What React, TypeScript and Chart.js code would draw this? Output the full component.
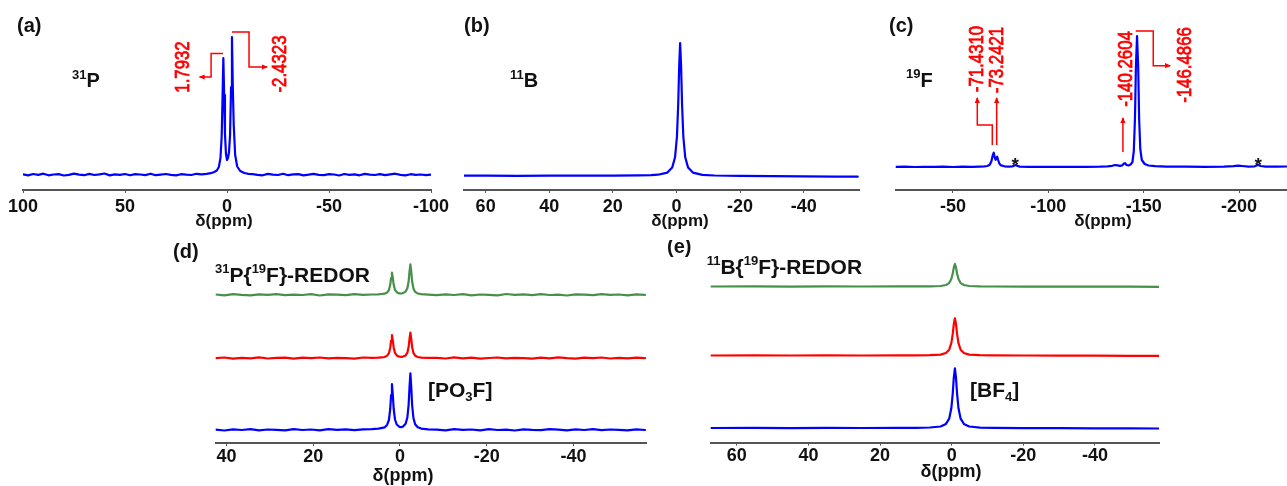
import React, { useEffect, useRef } from "react";
import { Chart, registerables } from "chart.js";

Chart.register(...registerables);

type Pt = [number, number];

// ---------------- DATA (δ in ppm, intensity in a.u.) ----------------
// (a) 31P
const P31_SPECTRUM: Pt[] = [
  [100, 0.6], [97.5, -0.4], [95, 1.0], [92.5, 0.2], [90, 1.3], [87.5, -0.3], [85, 0.5], [82.5, 0.9], [80, -0.5],
  [77.5, 0.1], [75, 1.4], [72.5, 0.4], [70, -0.2], [67.5, 1.1], [65, 0.0], [62.5, 0.6], [60, 1.5], [57.5, -0.4],
  [55, 0.7], [52.5, 0.1], [50, 1.0], [47.5, -0.3], [45, 0.9], [42.5, 0.5], [40, -0.1], [37.5, 1.3], [35, -0.2],
  [32.5, 0.4], [30, 1.0], [27.5, 0.1], [25, -0.4], [22.5, 0.8], [20, 0.3], [17.5, 0.0], [15, 1.2], [12.5, 0.6],
  [10, 1.2], [8, 1.8], [6.5, 2.8], [5, 4.5], [4, 8], [3.2, 17], [2.6, 39], [2.2, 76], [1.79, 117], [1.4, 80],
  [1.0, 41], [0.5, 21], [0.0, 15], [-0.5, 17], [-1.0, 23], [-1.5, 40], [-2.0, 88], [-2.43, 138], [-2.85, 88],
  [-3.3, 50], [-4.0, 20], [-5.0, 8.5], [-6.5, 4], [-8.5, 2], [-10.5, 1.2],
  [-12.5, 0.9], [-15, 0.2], [-17.5, -0.3], [-20, 1.1], [-22.5, 0.4], [-25, 0.0], [-27.5, 1.3], [-30, -0.2],
  [-32.5, 0.6], [-35, 0.9], [-37.5, -0.4], [-40, 0.3], [-42.5, 1.2], [-45, 0.1], [-47.5, -0.1], [-50, 0.8],
  [-52.5, 0.5], [-55, -0.5], [-57.5, 1.0], [-60, 0.2], [-62.5, 0.7], [-65, -0.3], [-67.5, 1.1], [-70, 0.4],
  [-72.5, 0.0], [-75, 0.9], [-77.5, -0.2], [-80, 0.6], [-82.5, 1.3], [-85, 0.1], [-87.5, -0.4], [-90, 0.8],
  [-92.5, 0.2], [-95, 0.5], [-97.5, -0.1], [-100, 0.3],
];

// (b) 11B
const B11_SPECTRUM: Pt[] = [
  [67, 0.3], [60, 0.4], [50, 0.2], [40, 0.4], [30, 0.3], [20, 0.4], [12, 0.6], [8, 0.9], [5.84, 1.3],
  [2.84, 3.4], [1.34, 8.4], [0.44, 18.7], [-0.16, 39.5], [-0.56, 72], [-0.86, 110], [-1.16, 133], [-1.46, 110],
  [-1.76, 72], [-2.16, 39.5], [-2.76, 18.7], [-3.66, 8.4], [-5.16, 3.4], [-8.16, 1.1], [-12, 0.5], [-20, 0.1],
  [-30, -0.2], [-40, -0.4], [-50, -0.6], [-57, -0.7],
];

// (c) 19F
const F19_SPECTRUM: Pt[] = [
  [-20, 0.1], [-25, 0.3], [-30, 0.0], [-35, 0.2], [-40, 0.1], [-45, 0.3], [-50, 0.0], [-55, 0.3], [-60, 0.2],
  [-64, 0.4], [-66.5, 0.6], [-68, 1.0], [-69.3, 2.2], [-70.2, 6], [-70.9, 12], [-71.4, 14.3], [-71.9, 9.5],
  [-72.4, 7.2], [-72.8, 9], [-73.2, 10.3], [-73.7, 7], [-74.3, 3.5], [-75.2, 1.6], [-77, 0.7], [-79, 0.4],
  [-81, 0.5], [-82.2, 1.4], [-82.8, 1.9], [-83.6, 1.2], [-85, 0.4], [-90, 0.2], [-100, 0.1], [-110, 0.2],
  [-120, 0.1], [-127, 0.3], [-131, 0.6], [-133.5, 1.2], [-135, 2.0], [-136.3, 1.6], [-137.5, 1.2], [-138.7, 1.6],
  [-139.6, 3.4], [-140.26, 3.8], [-141, 2.0], [-142, 1.6], [-143.2, 2.6], [-144.1, 5], [-144.8, 16], [-145.4, 48],
  [-145.9, 100], [-146.5, 131], [-147.1, 100], [-147.6, 48], [-148.2, 18], [-149, 7], [-150.5, 3], [-152.5, 1.5],
  [-156, 0.8], [-162, 0.4], [-172, 0.3], [-182, 0.2], [-192, 0.4], [-197, 0.8], [-199.5, 1.4], [-201.5, 1.0],
  [-205, 0.4], [-208.2, 0.7], [-209.4, 1.8], [-210.2, 2.0], [-211.3, 1.0], [-214, 0.4], [-220, 0.3], [-225.1, 0.5],
];

// (d) 31P{19F}-REDOR
const D_REFERENCE: Pt[] = [
  [42.5, 0.4], [40.5, -0.5], [38.5, 0.7], [36.5, 0.0], [34.5, 0.9], [32.5, -0.3], [30.5, 0.5], [28.5, 0.2],
  [26.5, -0.4], [24.5, 0.8], [22.5, 0.0], [20.5, 0.5], [18.5, -0.3], [16.5, 0.9], [14.5, 0.1], [12.5, 0.6],
  [10.5, -0.2], [8.5, 0.7], [6.5, 0.9], [5, 1.3], [4.35, 1.9], [3.55, 2.6], [2.95, 5.3], [2.55, 10], [2.25, 21],
  [2.05, 35], [1.85, 46], [1.65, 35], [1.45, 21], [1.15, 10.5], [0.75, 5.5], [0.15, 3.2], [-0.3, 2.8], [-0.7, 3.5],
  [-1.3, 6.3], [-1.7, 12.5], [-2.0, 25.5], [-2.2, 43], [-2.4, 56.7], [-2.6, 43], [-2.8, 25], [-3.1, 12],
  [-3.5, 5.8], [-4.1, 2.8], [-4.9, 1.4], [-6.5, 0.7], [-8.5, 0.3], [-10.5, -0.4], [-12.5, 0.8], [-14.5, 0.1],
  [-16.5, 0.5], [-18.5, -0.3], [-20.5, 0.9], [-22.5, 0.0], [-24.5, 0.4], [-26.5, -0.5], [-28.5, 0.7], [-30.5, 0.2],
  [-32.5, -0.1], [-34.5, 0.8], [-36.5, 0.3], [-38.5, -0.4], [-40.5, 0.6], [-42.5, 0.0], [-44.5, 0.9], [-46.5, -0.2],
  [-48.5, 0.5], [-50.5, 0.1], [-52.5, -0.3], [-54.5, 0.6], [-56.5, 0.0],
];
const D_MIDDLE: Pt[] = [
  [42.5, 0.2], [40.5, 0.8], [38.5, -0.3], [36.5, 0.5], [34.5, 0.0], [32.5, 0.9], [30.5, -0.2], [28.5, 0.4],
  [26.5, 0.7], [24.5, -0.4], [22.5, 0.6], [20.5, 0.1], [18.5, 0.8], [16.5, -0.1], [14.5, 0.5], [12.5, 0.2],
  [10.5, -0.3], [8.5, 0.8], [6.5, 0.5], [5, 0.7], [4.35, 1.0], [3.55, 1.3], [2.95, 2.7], [2.55, 5.1], [2.25, 10.6],
  [2.05, 17.7], [1.85, 23.3], [1.65, 17.7], [1.45, 10.6], [1.15, 5.4], [0.75, 2.9], [0.15, 1.6], [-0.3, 1.4],
  [-0.7, 1.7], [-1.3, 2.9], [-1.7, 5.6], [-2.0, 11.5], [-2.2, 19.4], [-2.4, 25.6], [-2.6, 19.4], [-2.8, 11.3],
  [-3.1, 5.4], [-3.5, 2.6], [-4.1, 1.3], [-4.9, 0.7], [-6.5, 0.4], [-8.5, 0.5], [-10.5, -0.2], [-12.5, 0.9],
  [-14.5, 0.0], [-16.5, 0.6], [-18.5, -0.4], [-20.5, 0.3], [-22.5, 0.8], [-24.5, -0.1], [-26.5, 0.5], [-28.5, 0.2],
  [-30.5, -0.3], [-32.5, 0.7], [-34.5, 0.0], [-36.5, 0.9], [-38.5, 0.1], [-40.5, -0.4], [-42.5, 0.6], [-44.5, 0.2],
  [-46.5, 0.8], [-48.5, -0.2], [-50.5, 0.4], [-52.5, 0.0], [-54.5, 0.7], [-56.5, 0.1],
];
const D_TOP: Pt[] = [
  [42.5, 0.5], [40.5, -0.3], [38.5, 0.8], [36.5, 0.1], [34.5, -0.4], [32.5, 0.7], [30.5, 0.2], [28.5, 0.9],
  [26.5, -0.2], [24.5, 0.4], [22.5, 0.0], [20.5, 0.8], [18.5, -0.5], [16.5, 0.6], [14.5, 0.3], [12.5, -0.1],
  [10.5, 0.9], [8.5, 0.2], [6.5, 0.5], [5, 0.7], [4.35, 1.0], [3.55, 1.3], [2.95, 2.6], [2.55, 4.9], [2.25, 10.2],
  [2.05, 17], [1.85, 22.3], [1.65, 17], [1.45, 10.2], [1.15, 5.2], [0.75, 2.8], [0.15, 1.6], [-0.3, 1.5],
  [-0.7, 1.9], [-1.3, 3.4], [-1.7, 6.8], [-2.0, 13.8], [-2.2, 23.3], [-2.4, 30.7], [-2.6, 23.3], [-2.8, 13.5],
  [-3.1, 6.5], [-3.5, 3.1], [-4.1, 1.5], [-4.9, 0.8], [-6.5, 0.4], [-8.5, -0.2], [-10.5, 0.7], [-12.5, 0.0],
  [-14.5, 0.9], [-16.5, -0.4], [-18.5, 0.5], [-20.5, 0.2], [-22.5, -0.3], [-24.5, 1.0], [-26.5, 0.1], [-28.5, 0.6],
  [-30.5, -0.2], [-32.5, 0.8], [-34.5, 0.0], [-36.5, 0.4], [-38.5, -0.5], [-40.5, 0.7], [-42.5, 0.3], [-44.5, -0.1],
  [-46.5, 0.9], [-48.5, 0.2], [-50.5, 0.5], [-52.5, -0.3], [-54.5, 0.6], [-56.5, 0.1],
];

// (e) 11B{19F}-REDOR
const E_REFERENCE: Pt[] = [
  [67.3, 0.3], [55, 0.4], [45, 0.2], [35, 0.4], [25, 0.3], [15, 0.4], [10, 0.5], [6.1, 0.8], [3.1, 1.8],
  [1.6, 4.4], [0.7, 9.6], [0.1, 20], [-0.3, 35], [-0.6, 51], [-0.9, 60], [-1.2, 51], [-1.5, 35], [-1.9, 20],
  [-2.5, 9.6], [-3.4, 4.4], [-4.9, 1.8], [-7.9, 0.7], [-12, 0.4], [-20, 0.2], [-30, 0.1], [-40, 0.0], [-50, -0.1],
  [-57.9, -0.2],
];
const E_MIDDLE: Pt[] = [
  [67.3, 0.2], [55, 0.3], [45, 0.2], [35, 0.3], [25, 0.2], [15, 0.3], [10, 0.4], [6.1, 0.5], [3.1, 1.1],
  [1.6, 2.7], [0.7, 6], [0.1, 12.5], [-0.3, 21.8], [-0.6, 31.8], [-0.9, 37.4], [-1.2, 31.8], [-1.5, 21.8],
  [-1.9, 12.5], [-2.5, 6], [-3.4, 2.7], [-4.9, 1.1], [-7.9, 0.5], [-12, 0.3], [-20, 0.2], [-30, 0.1], [-40, 0.0],
  [-50, -0.1], [-57.9, -0.1],
];
const E_TOP: Pt[] = [
  [67.3, 0.2], [55, 0.3], [45, 0.1], [35, 0.3], [25, 0.2], [15, 0.3], [10, 0.3], [6.1, 0.3], [3.1, 0.7],
  [1.6, 1.7], [0.7, 3.6], [0.1, 7.6], [-0.3, 13.2], [-0.6, 19.3], [-0.9, 22.7], [-1.2, 19.3], [-1.5, 13.2],
  [-1.9, 7.6], [-2.5, 3.6], [-3.4, 1.7], [-4.9, 0.7], [-7.9, 0.3], [-12, 0.2], [-20, 0.1], [-30, 0.1], [-40, 0.0],
  [-50, 0.0], [-57.9, -0.1],
];

// peak annotation labels
const P31_LABELS = ["1.7932", "-2.4323"];
const F19_LABELS = ["-71.4310", "-73.2421", "-140.2604", "-146.4866"];

// ---------------- STYLE ----------------
const FONT = "'Liberation Sans', Arial, Helvetica, sans-serif";
const BLUE = "#0000ff";
const RED = "#ff0000";
const GREEN = "#46904a";
const AXIS = "#555555";
const INK = "#111111";

type Seg = { t: string; size: number; dy?: number };

function rich(ctx: CanvasRenderingContext2D, x: number, y: number, segs: Seg[], color = INK) {
  ctx.save();
  ctx.fillStyle = color;
  ctx.textAlign = "left";
  ctx.textBaseline = "alphabetic";
  let cx = x;
  for (const s of segs) {
    ctx.font = `bold ${s.size}px ${FONT}`;
    ctx.fillText(s.t, cx, y + (s.dy || 0));
    cx += ctx.measureText(s.t).width;
  }
  ctx.restore();
}

function centerText(ctx: CanvasRenderingContext2D, x: number, y: number, t: string, size: number) {
  ctx.save();
  ctx.fillStyle = INK;
  ctx.font = `bold ${size}px ${FONT}`;
  ctx.textAlign = "center";
  ctx.textBaseline = "middle";
  ctx.fillText(t, x, y);
  ctx.restore();
}

function rotLabel(ctx: CanvasRenderingContext2D, x: number, y: number, t: string) {
  ctx.save();
  ctx.translate(x, y);
  ctx.rotate(-Math.PI / 2);
  ctx.scale(0.8, 1);
  ctx.fillStyle = RED;
  ctx.strokeStyle = RED;
  ctx.lineWidth = 0.8;
  ctx.font = `21px ${FONT}`;
  ctx.textAlign = "center";
  ctx.textBaseline = "middle";
  ctx.fillText(t, 0, 0);
  ctx.strokeText(t, 0, 0);
  ctx.restore();
}

function arrowPath(ctx: CanvasRenderingContext2D, pts: [number, number][]) {
  ctx.save();
  ctx.strokeStyle = RED;
  ctx.fillStyle = RED;
  ctx.lineWidth = 1.5;
  ctx.beginPath();
  ctx.moveTo(pts[0][0], pts[0][1]);
  for (let i = 1; i < pts.length; i++) ctx.lineTo(pts[i][0], pts[i][1]);
  ctx.stroke();
  const [x1, y1] = pts[pts.length - 2];
  const [x2, y2] = pts[pts.length - 1];
  const a = Math.atan2(y2 - y1, x2 - x1);
  const L = 5, W = 2.6;
  ctx.beginPath();
  ctx.moveTo(x2 + Math.cos(a) * 1, y2 + Math.sin(a) * 1);
  ctx.lineTo(x2 - L * Math.cos(a) + W * Math.sin(a), y2 - L * Math.sin(a) - W * Math.cos(a));
  ctx.lineTo(x2 - L * Math.cos(a) - W * Math.sin(a), y2 - L * Math.sin(a) + W * Math.cos(a));
  ctx.closePath();
  ctx.fill();
  ctx.restore();
}

type Series = { data: Pt[]; color: string; offset: number };
interface PanelCfg {
  left: number; top: number; width: number; height: number;
  padL: number; padR: number; padT: number; axisH: number;
  xMin: number; xMax: number; step: number;
  yMin: number; yMax: number;
  tickPad: number; tickSize: number;
  series: Series[];
  draw: (c: Chart, ctx: CanvasRenderingContext2D, P: (ppm: number, v: number) => [number, number]) => void;
}

function Panel({ cfg }: { cfg: PanelCfg }) {
  const ref = useRef<HTMLCanvasElement>(null);
  useEffect(() => {
    const canvas = ref.current!;
    const chart = new Chart(canvas, {
      type: "line",
      data: {
        datasets: cfg.series.map((s) => ({
          data: s.data.map(([x, y]) => ({ x, y: y + s.offset })),
          borderColor: s.color,
          borderWidth: 2.2,
          borderJoinStyle: "round",
          borderCapStyle: "round",
          pointRadius: 0,
          tension: 0,
          fill: false,
        })),
      },
      options: {
        responsive: false,
        maintainAspectRatio: false,
        animation: false,
        devicePixelRatio: 1,
        layout: { padding: { left: cfg.padL, right: cfg.padR, top: cfg.padT, bottom: 0 } },
        plugins: { legend: { display: false }, tooltip: { enabled: false }, title: { display: false } },
        scales: {
          x: {
            type: "linear",
            min: cfg.xMin,
            max: cfg.xMax,
            reverse: true,
            afterFit: (s: any) => { s.height = cfg.axisH; },
            border: { display: true, color: AXIS, width: 2 },
            grid: { display: true, drawOnChartArea: false, drawTicks: true, tickLength: 3, color: AXIS, lineWidth: 1 },
            ticks: {
              stepSize: cfg.step,
              includeBounds: false,
              padding: cfg.tickPad,
              color: INK,
              maxRotation: 0,
              autoSkip: false,
              font: { family: FONT, size: cfg.tickSize, weight: "bold" },
              callback: (v: any) => String(v),
            },
          },
          y: { display: false, min: cfg.yMin, max: cfg.yMax },
        },
      } as any,
      plugins: [
        {
          id: "overlay",
          afterDraw: (c: Chart) => {
            const P = (ppm: number, v: number): [number, number] => [
              c.scales.x.getPixelForValue(ppm),
              c.scales.y.getPixelForValue(v),
            ];
            cfg.draw(c, c.ctx, P);
          },
        },
      ],
    });
    return () => chart.destroy();
  }, []);
  return (
    <canvas
      ref={ref}
      width={cfg.width}
      height={cfg.height}
      style={{ position: "absolute", left: cfg.left, top: cfg.top, width: cfg.width, height: cfg.height }}
    />
  );
}

const panelA: PanelCfg = {
  left: 0, top: 0, width: 460, height: 240, padL: 23, padR: 29, padT: 10, axisH: 50,
  xMin: -100, xMax: 100, step: 50, yMin: -15, yMax: 165, tickPad: 3, tickSize: 18,
  series: [{ data: P31_SPECTRUM, color: BLUE, offset: 0 }],
  draw: (c, ctx, P) => {
    rich(ctx, 17, 32, [{ t: "(a)", size: 20 }]);
    rich(ctx, 72, 87.3, [{ t: "31", size: 13, dy: -8.7 }, { t: "P", size: 20 }]);
    centerText(ctx, 224, 221, "δ(ppm)", 17);
    arrowPath(ctx, [P(1.9, 121.5), P(7.8, 121.5), P(7.8, 98), P(13.4, 98)]);
    arrowPath(ctx, [P(-2.45, 143), P(-10.8, 143), P(-10.8, 108), P(-19.6, 108)]);
    const l1 = P(21.6, 108), l2 = P(-26, 111);
    rotLabel(ctx, l1[0], l1[1], P31_LABELS[0]);
    rotLabel(ctx, l2[0], l2[1], P31_LABELS[1]);
  },
};

const panelB: PanelCfg = {
  left: 440, top: 0, width: 440, height: 240, padL: 24, padR: 21, padT: 10, axisH: 50,
  xMin: -57.4, xMax: 66.8, step: 20, yMin: -14, yMax: 166, tickPad: 3, tickSize: 18,
  series: [{ data: B11_SPECTRUM, color: BLUE, offset: 0 }],
  draw: (c, ctx) => {
    rich(ctx, 24, 32, [{ t: "(b)", size: 20 }]);
    rich(ctx, 70, 87.3, [{ t: "11", size: 13, dy: -8.7 }, { t: "B", size: 20 }]);
    centerText(ctx, 240, 221, "δ(ppm)", 17);
  },
};

const panelC: PanelCfg = {
  left: 870, top: 0, width: 417, height: 240, padL: 25.7, padR: 0, padT: 10, axisH: 50,
  xMin: -225.1, xMax: -20, step: 50, yMin: -23, yMax: 157, tickPad: 3, tickSize: 18,
  series: [{ data: F19_SPECTRUM, color: BLUE, offset: 0 }],
  draw: (c, ctx, P) => {
    rich(ctx, 19, 32, [{ t: "(c)", size: 20 }]);
    rich(ctx, 36, 87, [{ t: "19", size: 13, dy: -8.7 }, { t: "F", size: 20 }]);
    centerText(ctx, 233, 221, "δ(ppm)", 17);
    arrowPath(ctx, [P(-70.63, 22), P(-70.63, 42), P(-62.77, 42), P(-62.77, 69)]);
    arrowPath(ctx, [P(-72.93, 22), P(-72.93, 69)]);
    arrowPath(ctx, [P(-139.1, 15), P(-139.1, 49)]);
    arrowPath(ctx, [P(-145.8, 136), P(-155.0, 136), P(-155.0, 101.3), P(-163.8, 101.3)]);
    const pos: [number, number][] = [[-62.9, 108], [-73.35, 107], [-140.6, 98], [-171.6, 102]];
    pos.forEach(([x, v], i) => {
      const p = P(x, v);
      rotLabel(ctx, p[0], p[1], F19_LABELS[i]);
    });
    ctx.save();
    ctx.fillStyle = INK;
    ctx.font = `bold 19px ${FONT}`;
    ctx.textAlign = "center";
    ctx.textBaseline = "alphabetic";
    for (const s of [-82.6, -210]) {
      const p = P(s, -4);
      ctx.fillText("*", p[0], p[1]);
    }
    ctx.restore();
  },
};

const panelD: PanelCfg = {
  left: 160, top: 240, width: 500, height: 246, padL: 55.7, padR: 13.3, padT: 5, axisH: 43,
  xMin: -56.9, xMax: 42.5, step: 20, yMin: -13, yMax: 185, tickPad: 0, tickSize: 18,
  series: [
    { data: D_REFERENCE, color: BLUE, offset: 0 },
    { data: D_MIDDLE, color: RED, offset: 71.7 },
    { data: D_TOP, color: GREEN, offset: 135 },
  ],
  draw: (c, ctx) => {
    rich(ctx, 13, 18, [{ t: "(d)", size: 20 }]);
    rich(ctx, 55, 42, [
      { t: "31", size: 13, dy: -9 }, { t: "P{", size: 21 }, { t: "19", size: 13, dy: -9 }, { t: "F}-REDOR", size: 21 },
    ]);
    rich(ctx, 268, 156.7, [{ t: "[PO", size: 21 }, { t: "3", size: 13, dy: 4 }, { t: "F]", size: 21 }]);
    centerText(ctx, 243, 236.5, "δ(ppm)", 18);
  },
};

const panelE: PanelCfg = {
  left: 660, top: 240, width: 627, height: 246, padL: 50.7, padR: 128, padT: 5, axisH: 43.3,
  xMin: -57.9, xMax: 67.3, step: 20, yMin: -14.4, yMax: 183.3, tickPad: 0, tickSize: 18,
  series: [
    { data: E_REFERENCE, color: BLUE, offset: 0 },
    { data: E_MIDDLE, color: RED, offset: 72.6 },
    { data: E_TOP, color: GREEN, offset: 141.6 },
  ],
  draw: (c, ctx) => {
    rich(ctx, 7, 13, [{ t: "(e)", size: 20 }]);
    rich(ctx, 46.7, 34, [
      { t: "11", size: 13, dy: -9 }, { t: "B{", size: 21 }, { t: "19", size: 13, dy: -9 }, { t: "F}-REDOR", size: 21 },
    ]);
    rich(ctx, 310, 156.7, [{ t: "[BF", size: 21 }, { t: "4", size: 13, dy: 4 }, { t: "]", size: 21 }]);
    centerText(ctx, 291, 232, "δ(ppm)", 18);
  },
};

export default function App() {
  return (
    <div style={{ position: "absolute", left: 0, top: 0, width: 1287, height: 486, background: "#fff", overflow: "hidden" }}>
      <Panel cfg={panelA} />
      <Panel cfg={panelB} />
      <Panel cfg={panelC} />
      <Panel cfg={panelD} />
      <Panel cfg={panelE} />
    </div>
  );
}
